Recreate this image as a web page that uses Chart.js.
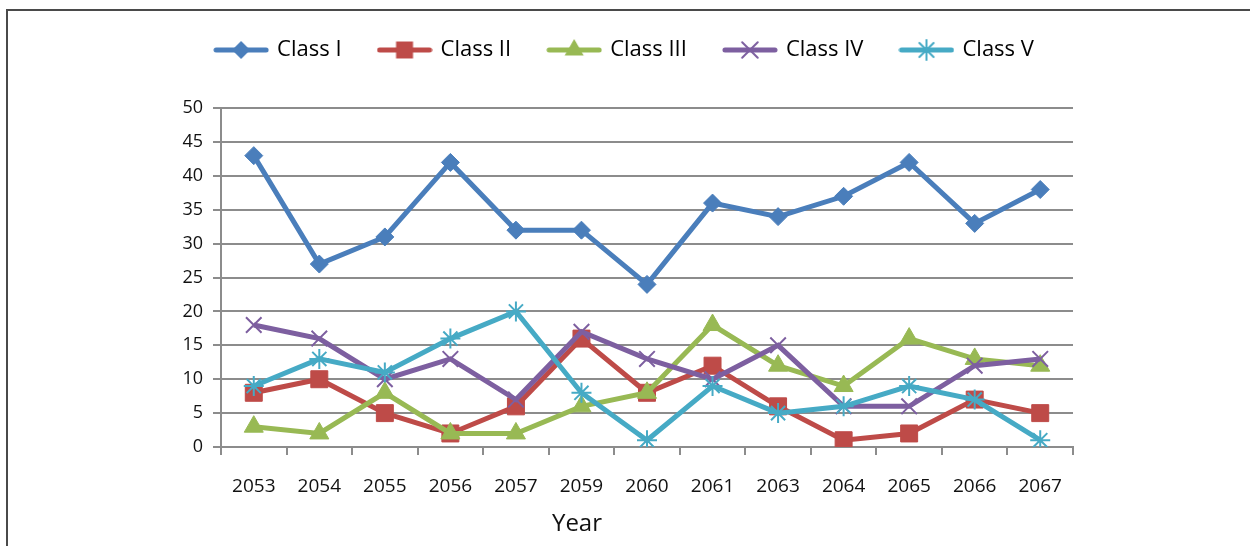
<!DOCTYPE html>
<html>
<head>
<meta charset="utf-8">
<script src="https://cdn.jsdelivr.net/npm/chart.js@4/dist/chart.umd.min.js"></script>
<style>
  html, body { margin: 0; padding: 0; background: #fff; overflow: hidden; }
  #wrap { position: relative; width: 1250px; height: 546px; }
  #frame { position: absolute; left: 6px; top: 9px; width: 1400px; height: 700px; border: 2px solid #4a4a4a; box-sizing: border-box; }
  #chart { position: absolute; left: 0; top: 0; }
  #xtitle { position: absolute; left: 527px; width: 100px; top: 506px; text-align: center;
            font: 24px 'Open Sans', 'Liberation Sans', sans-serif; color: #111; line-height: 32px; }
</style>
</head>
<body>
<div id="wrap">
  <div id="frame"></div>
  <canvas id="chart" width="1250" height="546"></canvas>
  <div id="xtitle">Year</div>
</div>
<script>
const years = ['2053', '2054', '2055', '2056', '2057', '2059', '2060', '2061', '2063', '2064', '2065', '2066', '2067'];

const classI   = [43, 27, 31, 42, 32, 32, 24, 36, 34, 37, 42, 33, 38];
const classII  = [8, 10, 5, 2, 6, 16, 8, 12, 6, 1, 2, 7, 5];
const classIII = [3, 2, 8, 2, 2, 6, 8, 18, 12, 9, 16, 13, 12];
const classIV  = [18, 16, 10, 13, 7, 17, 13, 10, 15, 6, 6, 12, 13];
const classV   = [9, 13, 11, 16, 20, 8, 1, 9, 5, 6, 9, 7, 1];

const seriesNames = ['Class I', 'Class II', 'Class III', 'Class IV', 'Class V'];
const yTicks = [0, 5, 10, 15, 20, 25, 30, 35, 40, 45, 50];

const FONT = "'Open Sans', 'Liberation Sans', sans-serif";

const styles = [
    {color: '#4a7ebb', shape: 'rectRot',  radius: 9,  markerWidth: 1},
    {color: '#be4b48', shape: 'rect',     radius: 12, markerWidth: 1},
    {color: '#98b954', shape: 'triangle', radius: 11, markerWidth: 1},
    {color: '#7d5fa0', shape: 'crossRot', radius: 11, markerWidth: 2},
    {color: '#46aac5', shape: 'star',     radius: 10, markerWidth: 2}
];

// small picture of line + marker for the legend
function legendIcon(st) {
    const c = document.createElement('canvas');
    c.width = 56; c.height = 26;
    const g = c.getContext('2d');
    g.strokeStyle = st.color;
    g.fillStyle = st.color;
    g.lineWidth = 5;
    g.lineCap = 'round';
    g.beginPath();
    g.moveTo(3, 13); g.lineTo(53, 13);
    g.stroke();
    const x = 28, y = 13, r = st.radius;
    g.lineWidth = st.markerWidth;
    g.beginPath();
    if (st.shape === 'rectRot') {
        g.moveTo(x, y - r); g.lineTo(x + r, y); g.lineTo(x, y + r); g.lineTo(x - r, y); g.closePath(); g.fill();
    } else if (st.shape === 'rect') {
        const s = r * Math.SQRT1_2;
        g.fillRect(x - s, y - s, 2 * s, 2 * s);
    } else if (st.shape === 'triangle') {
        g.moveTo(x, y - r); g.lineTo(x + r * 0.866, y + r * 0.5); g.lineTo(x - r * 0.866, y + r * 0.5); g.closePath(); g.fill();
    } else if (st.shape === 'crossRot') {
        const d = r * Math.SQRT1_2;
        g.moveTo(x - d, y - d); g.lineTo(x + d, y + d);
        g.moveTo(x + d, y - d); g.lineTo(x - d, y + d);
        g.stroke();
    } else {
        const d = r * Math.SQRT1_2;
        g.moveTo(x, y - r); g.lineTo(x, y + r);
        g.moveTo(x - d, y - d); g.lineTo(x + d, y + d);
        g.moveTo(x + d, y - d); g.lineTo(x - d, y + d);
        g.stroke();
    }
    return c;
}

const allData = [classI, classII, classIII, classIV, classV];

const datasets = allData.map((vals, i) => ({
    label: seriesNames[i],
    data: vals,
    borderColor: styles[i].color,
    backgroundColor: styles[i].color,
    borderWidth: 5,
    pointStyle: styles[i].shape,
    pointRadius: styles[i].radius,
    pointBorderWidth: styles[i].markerWidth,
    pointBorderColor: styles[i].color,
    pointBackgroundColor: styles[i].color,
    tension: 0,
    order: 5 - i
}));

const icons = styles.map(legendIcon);
const gridColor = '#8c8c8c';

new Chart(document.getElementById('chart').getContext('2d'), {
    type: 'line',
    data: {labels: years, datasets: datasets},
    options: {
        responsive: false,
        animation: false,
        layout: {padding: {left: 0, right: 0, top: 1, bottom: 0}},
        plugins: {
            tooltip: {enabled: false},
            // empty title used as a gap between legend and plot
            title: {display: true, text: '', weight: 500, font: {size: 1}, padding: {top: 36, bottom: 0}},
            legend: {
                position: 'top',
                labels: {
                    usePointStyle: true,
                    pointStyleWidth: 50,
                    padding: 38,
                    color: '#111',
                    font: {family: FONT, size: 22},
                    generateLabels: chart => chart.data.datasets.map((ds, i) => ({
                        text: ds.label,
                        pointStyle: icons[i],
                        fillStyle: ds.borderColor,
                        strokeStyle: ds.borderColor,
                        lineWidth: 0,
                        hidden: false,
                        datasetIndex: i
                    }))
                }
            }
        },
        scales: {
            x: {
                type: 'category',
                offset: true,
                grid: {display: true, drawOnChartArea: false, drawTicks: true, tickLength: 8, offset: true, color: gridColor, lineWidth: 2},
                border: {display: true, color: gridColor, width: 2},
                ticks: {color: '#111', font: {family: FONT, size: 19}, padding: 20, maxRotation: 0},
                afterFit: scale => { scale.height = 99; }
            },
            y: {
                min: 0,
                max: 50,
                afterBuildTicks: scale => { scale.ticks = yTicks.map(v => ({value: v})); },
                grid: {color: gridColor, lineWidth: 2, tickLength: 8},
                border: {display: true, color: gridColor, width: 2},
                ticks: {color: '#111', font: {family: FONT, size: 18}, padding: 10},
                afterFit: scale => { scale.width = 221; }
            },
            // blank axis on the right, keeps the plot narrower than the legend
            yRight: {
                position: 'right',
                display: true,
                grid: {display: false, drawTicks: false},
                border: {display: false},
                ticks: {display: false},
                afterFit: scale => { scale.width = 177; }
            }
        }
    }
});
</script>
</body>
</html>
